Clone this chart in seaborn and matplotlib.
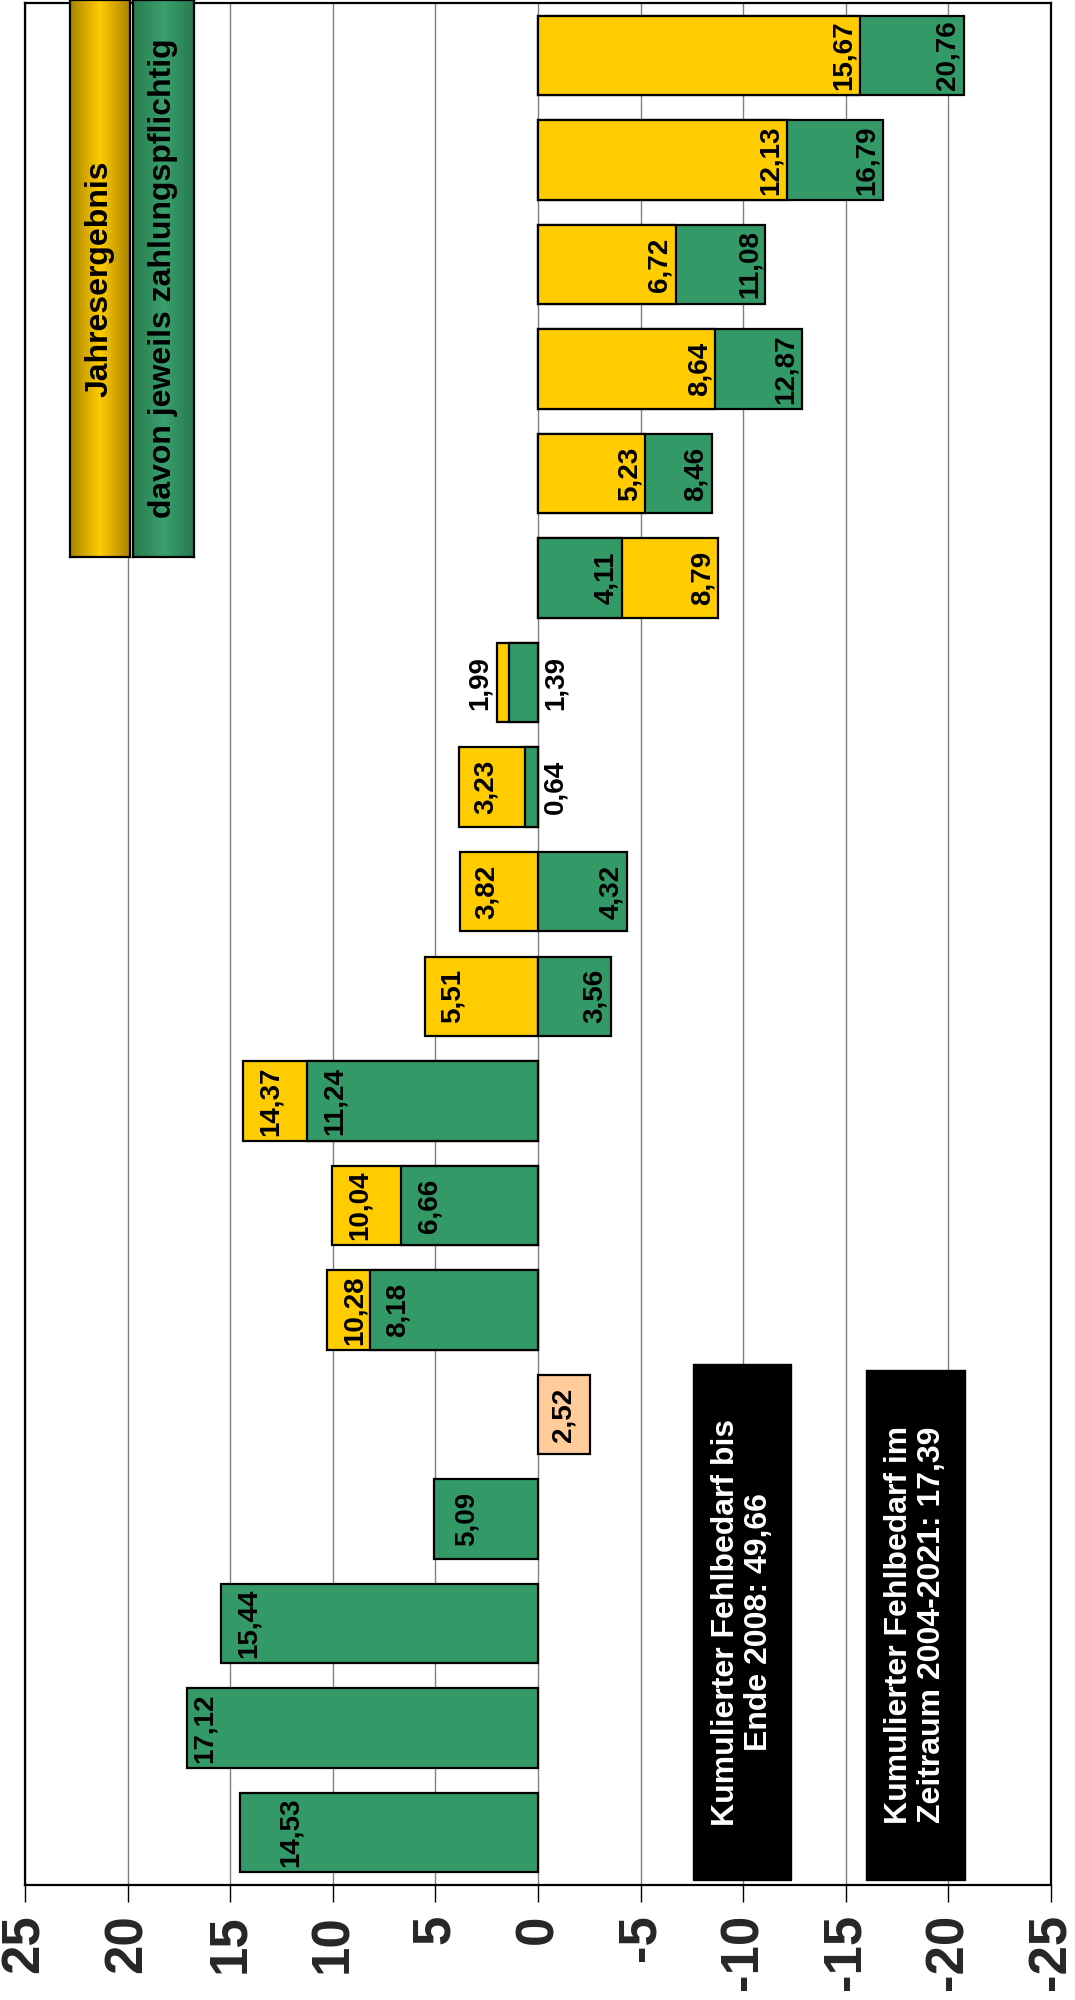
import numpy as np
import pandas as pd
import matplotlib
matplotlib.use("Agg")
import matplotlib.pyplot as plt
import seaborn as sns
from matplotlib.patches import Rectangle
from matplotlib.colors import LinearSegmentedColormap

# ---------------- data ----------------
years = [str(y) for y in range(2004, 2022)]
jahresergebnis = [np.nan, np.nan, np.nan, np.nan, np.nan,
                  10.28, 10.04, 14.37, 5.51, 3.82, 3.23, 1.99,
                  -8.79, -5.23, -8.64, -6.72, -12.13, -15.67]
# 2014: the yellow segment sits on top of the green one
jahres_basis = [0, 0, 0, 0, 0, 0, 0, 0, 0, 0, 0.64, 0, 0, 0, 0, 0, 0, 0]
zahlungspflichtig = [14.53, 17.12, 15.44, 5.09, np.nan,
                     8.18, 6.66, 11.24, -3.56, -4.32, 0.64, 1.39,
                     -4.11, -8.46, -12.87, -11.08, -16.79, -20.76]
ueberschuss = [np.nan, np.nan, np.nan, np.nan, -2.52] + [np.nan] * 13

legend_labels = ["Jahresergebnis", "davon jeweils zahlungspflichtig"]
box_texts = ["Kumulierter Fehlbedarf bis\nEnde 2008: 49,66",
             "Kumulierter Fehlbedarf im\nZeitraum 2004-2021: 17,39"]
tick_values = [25, 20, 15, 10, 5, 0, -5, -10, -15, -20, -25]

YELLOW = "#FFCC00"
GREEN = "#339966"
PEACH = "#FFCC99"

# ---------------- style ----------------
sns.set_theme(style="white")
plt.rcParams["font.family"] = ["Liberation Sans", "DejaVu Sans"]
plt.rcParams["font.weight"] = "bold"

fig = plt.figure(figsize=(10.75, 20), dpi=100)
ax = fig.add_axes([25 / 1075, 115 / 2000, 1026 / 1075, 1882 / 2000])

order = years[::-1]
pos = {y: i for i, y in enumerate(order)}

rows = []
for i, yr in enumerate(years):
    segs = []
    if not np.isnan(jahresergebnis[i]):
        segs.append((jahres_basis[i] + jahresergebnis[i], YELLOW))
    if not np.isnan(zahlungspflichtig[i]):
        segs.append((zahlungspflichtig[i], GREEN))
    if not np.isnan(ueberschuss[i]):
        segs.append((ueberschuss[i], PEACH))
    segs.sort(key=lambda s: -abs(s[0]))
    for k, (v, c) in enumerate(segs):
        rows.append(dict(year=yr, value=v, color=c, layer="back" if k == 0 else "front"))
df = pd.DataFrame(rows)

for layer in ["back", "front"]:
    sub = df[df["layer"] == layer]
    sns.barplot(data=sub, x="value", y="year", hue="year",
                palette=dict(zip(sub["year"], sub["color"])),
                order=order, orient="h", width=0.76, errorbar=None,
                saturation=1, edgecolor="black", linewidth=1.6,
                legend=False, ax=ax)

ax.set_xlim(25, -25)
ax.set_ylim(len(order) - 0.5, -0.5)
ax.set_xlabel("")
ax.set_ylabel("")
ax.set_yticks([])
ax.set_xticks(tick_values)
ax.set_xticklabels([str(t) for t in tick_values], rotation=90, fontsize=38,
                   fontweight="bold")
ax.tick_params(axis="x", bottom=True, length=12, width=1, color="black", pad=9)
ax.set_axisbelow(True)
ax.xaxis.grid(True, color="#808080", linewidth=1.0)
for sp in ax.spines.values():
    sp.set_visible(True)
    sp.set_color("black")
    sp.set_linewidth(1.6)


# ---------------- value labels ----------------
def fmt(v):
    return f"{abs(v):.2f}".replace(".", ",")


# label inset from the bar end (value units); a few labels sit deeper
inset_override = {"2004": 2.5, "2005": 0.9, "2007": 1.6}

for i, yr in enumerate(years):
    y = pos[yr]
    j, z, u = jahresergebnis[i], zahlungspflichtig[i], ueberschuss[i]
    items = []
    if not np.isnan(j):
        end = jahres_basis[i] + j
        same_side = (not np.isnan(z)) and np.sign(z) == np.sign(end)
        if same_side and abs(z) < abs(end):
            visible = abs(end) - abs(z)
        else:
            visible = abs(end)
        if visible < 1.5:
            x = end + np.sign(end) * 0.85
        else:
            x = end - np.sign(end) * (1.35 if end > 0 else 0.78)
        items.append((x, j))
    if not np.isnan(z):
        if abs(z) < 2:
            x = -np.sign(z) * 0.85
        else:
            inset = inset_override.get(yr, 1.35 if z > 0 else 0.78)
            x = z - np.sign(z) * inset
        items.append((x, z))
    if not np.isnan(u):
        items.append((u / 2, u))
    for x, v in items:
        ax.text(x, y, fmt(v), rotation=90, ha="center", va="center",
                fontsize=20, fontweight="bold", color="black", zorder=5)

# ---------------- black annotation boxes ----------------
boxes = [(-7.57, -12.35, 12.52, 17.45), (-16.0, -20.8, 12.57, 17.45)]
for (x0, x1, y0, y1), txt in zip(boxes, box_texts):
    ax.add_patch(Rectangle((x0, y0), x1 - x0, y1 - y0, facecolor="black",
                           edgecolor="black", zorder=6))
    ax.text((x0 + x1) / 2, (y0 + y1) / 2, txt, rotation=90, ha="center",
            va="center", color="white", fontsize=23, fontweight="bold",
            linespacing=1.15, multialignment="center", zorder=7)


# ---------------- legend (gradient boxes) ----------------
def gradient_box(x0, w, edge_col, mid_col, label):
    lax = fig.add_axes([x0 / 1075, 1 - 557 / 2000, w / 1075, 557 / 2000])
    cmap = LinearSegmentedColormap.from_list("g", [edge_col, mid_col, edge_col])
    grad = np.linspace(0, 1, 256)[None, :]
    lax.imshow(grad, aspect="auto", cmap=cmap, extent=(0, 1, 0, 1))
    lax.set_xlim(0, 1)
    lax.set_ylim(0, 1)
    lax.set_xticks([])
    lax.set_yticks([])
    for sp in lax.spines.values():
        sp.set_color("black")
        sp.set_linewidth(1.6)
    lax.text(0.5, 0.5, label, rotation=90, ha="center", va="center",
             fontsize=23, fontweight="bold", color="black",
             transform=lax.transAxes)


gradient_box(70, 60, "#A98400", YELLOW, legend_labels[0])
gradient_box(133, 61, "#277A50", "#3AA06C", legend_labels[1])

fig.savefig("out.png", dpi=100)
